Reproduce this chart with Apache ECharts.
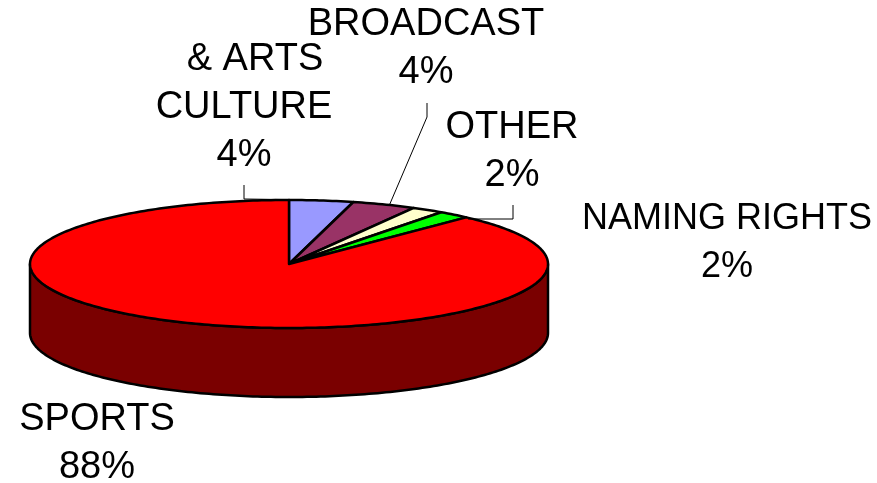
<!DOCTYPE html>
<html>
<head>
<meta charset="utf-8">
<script src="https://cdn.jsdelivr.net/npm/echarts@6/dist/echarts.min.js"></script>
<style>
  html, body { margin: 0; padding: 0; background: #fff; }
  #chart { width: 877px; height: 483px; }
</style>
</head>
<body>
<div id="chart"></div>
<script>
// Revenue share by category (percent)
const categories = ['& ARTS\nCULTURE', 'BROADCAST', 'OTHER', 'NAMING RIGHTS', 'SPORTS'];
const values = [4, 4, 2, 2, 88];

// Slice face colours and the darker wall shade
const faceColors = ['#9999FF', '#993366', '#FFFFCC', '#00FF00', '#FF0000'];
const wallColors = ['#4D4D80', '#4D1A33', '#808066', '#008000', '#7A0000'];

// Disc geometry: centre, radii of the top ellipse, wall thickness
const disc = { cx: 289, cy: 264, rx: 259, ry: 64, depth: 69 };

// Label blocks: centre x, top of first line, font size, per-line x nudges, leader polyline
const labelLayout = [
  { x: 244, y: 36,  size: 38, shift: [11, 0, 0], leader: [[244, 185], [244, 199], [318, 200]] },
  { x: 426, y: 1,   size: 38, leader: [[427, 103], [427, 117], [389, 206]] },
  { x: 512, y: 104, size: 38, leader: [[513, 205], [513, 219], [468, 219]] },
  { x: 727, y: 195, size: 36 },
  { x: 97,  y: 396, size: 38 }
];
const lineGap = 48;

const total = values.reduce((a, b) => a + b, 0);
const starts = [];
values.reduce((acc, v) => { starts.push(acc); return acc + v; }, 0);

function pt(deg, dy) {
  const r = deg * Math.PI / 180;
  return [disc.cx + disc.rx * Math.sin(r), disc.cy - disc.ry * Math.cos(r) + (dy || 0)];
}

function arc(a, b, dy) {
  const pts = [];
  const n = Math.max(2, Math.ceil(Math.abs(b - a)));
  for (let i = 0; i <= n; i++) pts.push(pt(a + (b - a) * i / n, dy));
  return pts;
}

function renderItem(params, api) {
  const i = params.dataIndex;
  const v = api.value(0);
  const a0 = starts[i] / total * 360;
  const a1 = a0 + v / total * 360;
  const children = [];

  // front wall, only where the rim faces the viewer
  const w0 = Math.max(a0, 90), w1 = Math.min(a1, 270);
  if (w1 > w0) {
    const top = arc(w0, w1, 0);
    const bottom = arc(w1, w0, disc.depth);
    children.push({
      type: 'polygon', z2: 1,
      shape: { points: top.concat(bottom) },
      style: { fill: wallColors[i], stroke: '#000', lineWidth: 2.5, lineJoin: 'round' }
    });
  }

  // top face
  children.push({
    type: 'polygon', z2: 2,
    shape: { points: [[disc.cx, disc.cy]].concat(arc(a0, a1, 0)) },
    style: { fill: faceColors[i], stroke: '#000', lineWidth: 2.5, lineJoin: 'round' }
  });

  // label: name and rounded percentage, one text per line
  const lay = labelLayout[i];
  const pct = Math.round(v / total * 100) + '%';
  const lines = (categories[i] + '\n' + pct).split('\n');
  lines.forEach((line, k) => {
    children.push({
      type: 'text', z2: 5,
      x: lay.x + ((lay.shift && lay.shift[k]) || 0),
      y: lay.y + k * lineGap,
      style: {
        text: line,
        fill: '#000',
        fontSize: lay.size,
        fontFamily: '"Liberation Sans", Arial, sans-serif',
        align: 'center',
        verticalAlign: 'top',
        lineHeight: lineGap
      }
    });
  });
  if (lay.leader) {
    children.push({
      type: 'polyline', z2: 4,
      shape: { points: lay.leader },
      style: { stroke: '#000', lineWidth: 1, fill: null }
    });
  }
  return { type: 'group', children };
}

const chart = echarts.init(document.getElementById('chart'), null, { renderer: 'canvas' });
chart.setOption({
  backgroundColor: '#fff',
  animation: false,
  series: [{
    type: 'custom',
    coordinateSystem: 'none',
    renderItem,
    data: values.map((v, i) => ({ name: categories[i], value: [v] }))
  }]
});
</script>
</body>
</html>
